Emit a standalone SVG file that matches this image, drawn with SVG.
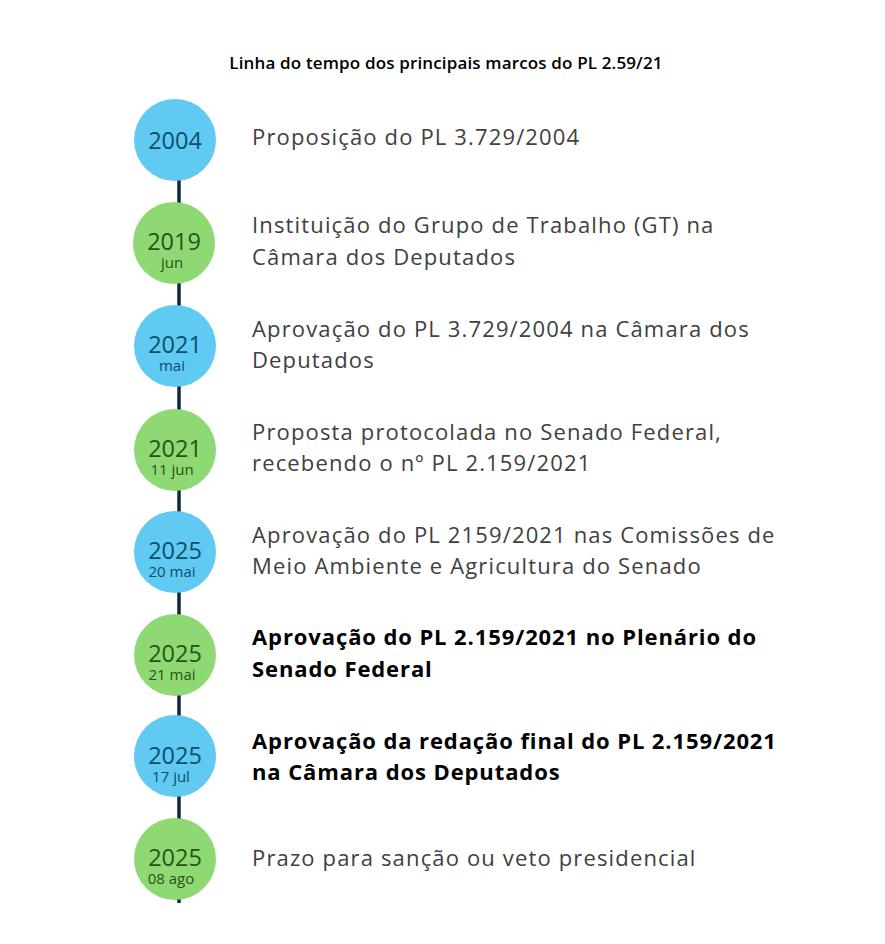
<svg xmlns="http://www.w3.org/2000/svg" width="885" height="944" viewBox="0 0 885 944">
<style>
.bg{fill:#ffffff}
.title{font-family:"Open Sans","Liberation Sans",sans-serif;font-size:17px;font-weight:600;fill:#000000;letter-spacing:0.15px}
.blue{fill:#60CAF3}
.green{fill:#8ED973}
.yr{font-family:"Open Sans","Liberation Sans",sans-serif;font-size:23.5px;text-anchor:middle}
.sub{font-family:"Open Sans","Liberation Sans",sans-serif;font-size:15px;text-anchor:middle}
.tb{fill:#0B4F6A}
.tg{fill:#275317}
.lbl{font-family:"Open Sans","Liberation Sans",sans-serif;font-size:22px;fill:#404040;letter-spacing:1.15px}
.bold{fill:#000000;font-weight:700;letter-spacing:0.9px}
.line{stroke:#0E2841;stroke-width:3.5;fill:none}
</style>
<rect class="bg" x="0" y="0" width="885" height="944"/>
<text class="title" x="446" y="69" text-anchor="middle">Linha do tempo dos principais marcos do PL 2.59/21</text>
<g id="connectors">
<line class="line" x1="179" y1="175" x2="179" y2="903"/>
</g>
<g id="n1">
<circle class="blue" cx="175" cy="140" r="41"/>
<text class="yr tb" x="175" y="149">2004</text>
<text class="lbl" x="252" y="145">Proposição do PL 3.729/2004</text>
</g>
<g id="n2">
<circle class="green" cx="174" cy="243" r="41"/>
<text class="yr tg" x="174" y="250">2019</text>
<text class="sub tg" x="172" y="268">jun</text>
<text class="lbl" x="252" y="233">Instituição do Grupo de Trabalho (GT) na</text>
<text class="lbl" x="252" y="265">Câmara dos Deputados</text>
</g>
<g id="n3">
<circle class="blue" cx="175" cy="346" r="41"/>
<text class="yr tb" x="175" y="353">2021</text>
<text class="sub tb" x="172" y="371">mai</text>
<text class="lbl" x="252" y="337">Aprovação do PL 3.729/2004 na Câmara dos</text>
<text class="lbl" x="252" y="368">Deputados</text>
</g>
<g id="n4">
<circle class="green" cx="175" cy="450" r="41"/>
<text class="yr tg" x="175" y="457">2021</text>
<text class="sub tg" x="172" y="475">11 jun</text>
<text class="lbl" x="252" y="440">Proposta protocolada no Senado Federal,</text>
<text class="lbl" x="252" y="471">recebendo o nº PL 2.159/2021</text>
</g>
<g id="n5">
<circle class="blue" cx="175" cy="552" r="41"/>
<text class="yr tb" x="175" y="559">2025</text>
<text class="sub tb" x="172" y="577">20 mai</text>
<text class="lbl" x="252" y="543">Aprovação do PL 2159/2021 nas Comissões de</text>
<text class="lbl" x="252" y="574">Meio Ambiente e Agricultura do Senado</text>
</g>
<g id="n6">
<circle class="green" cx="175" cy="655" r="41"/>
<text class="yr tg" x="175" y="662">2025</text>
<text class="sub tg" x="172" y="680">21 mai</text>
<text class="lbl bold" x="252" y="645">Aprovação do PL 2.159/2021 no Plenário do</text>
<text class="lbl bold" x="252" y="677">Senado Federal</text>
</g>
<g id="n7">
<circle class="blue" cx="175" cy="756" r="41"/>
<text class="yr tb" x="175" y="764">2025</text>
<text class="sub tb" x="171" y="782">17 jul</text>
<text class="lbl bold" x="252" y="749">Aprovação da redação final do PL 2.159/2021</text>
<text class="lbl bold" x="252" y="780">na Câmara dos Deputados</text>
</g>
<g id="n8">
<circle class="green" cx="175" cy="859" r="41"/>
<text class="yr tg" x="175" y="866">2025</text>
<text class="sub tg" x="171" y="884">08 ago</text>
<text class="lbl" x="252" y="866">Prazo para sanção ou veto presidencial</text>
</g>
</svg>
